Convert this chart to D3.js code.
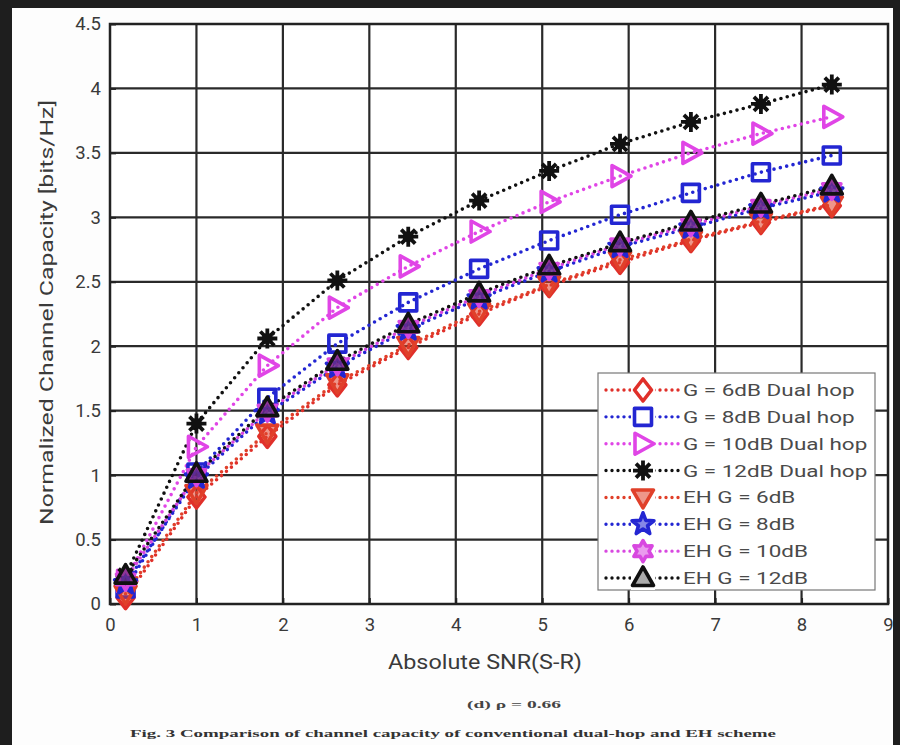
<!DOCTYPE html>
<html>
<head>
<meta charset="utf-8">
<script src="https://cdn.jsdelivr.net/npm/d3@7/dist/d3.min.js"></script>
<style>
  html, body { margin: 0; padding: 0; background: #1e1e1e; }
  svg { display: block; }
</style>
</head>
<body>
<svg id="chart" width="900" height="745"></svg>
<script>
// Absolute SNR (S-R) sample points
const snr = [0.18, 1.0, 1.82, 2.63, 3.45, 4.27, 5.08, 5.9, 6.72, 7.53, 8.35];

// Normalized channel capacity [bits/Hz], one array per curve
const dh6  = [0.05, 0.83, 1.30, 1.70, 1.99, 2.25, 2.47, 2.65, 2.82, 2.96, 3.09];
const dh8  = [0.12, 1.02, 1.60, 2.02, 2.34, 2.60, 2.82, 3.02, 3.19, 3.35, 3.48];
const dh10 = [0.18, 1.22, 1.85, 2.30, 2.62, 2.89, 3.12, 3.32, 3.50, 3.65, 3.78];
const dh12 = [0.22, 1.40, 2.06, 2.51, 2.85, 3.13, 3.36, 3.57, 3.74, 3.88, 4.03];
const eh6  = [0.08, 0.86, 1.33, 1.72, 2.01, 2.27, 2.48, 2.67, 2.83, 2.97, 3.10];
const eh8  = [0.16, 0.98, 1.48, 1.84, 2.13, 2.37, 2.58, 2.77, 2.92, 3.07, 3.20];
const eh10 = [0.19, 1.00, 1.50, 1.86, 2.15, 2.39, 2.60, 2.79, 2.94, 3.09, 3.22];
const eh12 = [0.22, 1.01, 1.52, 1.88, 2.17, 2.41, 2.62, 2.80, 2.96, 3.10, 3.24];

const seriesNames = [
  "G = 6dB Dual hop", "G = 8dB Dual hop", "G = 10dB Dual hop", "G = 12dB Dual hop",
  "EH G = 6dB", "EH G = 8dB", "EH G = 10dB", "EH G = 12dB"
];
const seriesValues = [dh6, dh8, dh10, dh12, eh6, eh8, eh10, eh12];
const seriesColors = ["#e0302a", "#2326d2", "#e045e6", "#111111", "#e0402a", "#2326d2", "#d848e0", "#111111"];
const seriesMarkers = ["diamond", "square", "triangleRight", "asterisk", "triangleDown", "pentagram", "hexagram", "triangleUp"];
const seriesFill = [0, 0, 0, 0, 0.55, 0.55, 0.55, 0.35];

const xTicks = [0, 1, 2, 3, 4, 5, 6, 7, 8, 9];
const yTicks = [0, 0.5, 1, 1.5, 2, 2.5, 3, 3.5, 4, 4.5];

const svg = d3.select("#chart");
const sans = "Roboto, 'Liberation Sans', sans-serif";

// paper area
svg.append("rect").attr("x", 12).attr("y", 8).attr("width", 881).attr("height", 737).attr("fill", "#fdfdfd");

const x = d3.scaleLinear().domain([0, 9]).range([110, 888]);
const y = d3.scaleLinear().domain([0, 4.5]).range([604, 24]);

// plot background
svg.append("rect")
  .attr("x", x(0)).attr("y", y(4.5))
  .attr("width", x(9) - x(0)).attr("height", y(0) - y(4.5))
  .attr("fill", "#ffffff");

// grid
const grid = svg.append("g").attr("stroke", "#2a2a2a").attr("stroke-width", 2.2);
grid.selectAll(".vx").data(xTicks.slice(1, -1)).join("line")
  .attr("x1", d => x(d)).attr("x2", d => x(d))
  .attr("y1", y(0)).attr("y2", y(4.5));
grid.selectAll(".hy").data(yTicks.slice(1, -1)).join("line")
  .attr("x1", x(0)).attr("x2", x(9))
  .attr("y1", d => y(d)).attr("y2", d => y(d));

// axes
const xAxis = d3.axisBottom(x).tickValues(xTicks).tickSize(-6).tickPadding(14).tickFormat(d3.format("d"));
const yAxis = d3.axisLeft(y).tickValues(yTicks).tickSize(-6).tickPadding(9).tickFormat(d => String(d));

function styleAxis(g) {
  g.select(".domain").remove();
  g.selectAll(".tick line").attr("stroke", "#222").attr("stroke-width", 2);
  g.selectAll(".tick text")
    .attr("font-family", sans)
    .attr("font-size", 18.5).attr("fill", "#3a3a3a");
}
svg.append("g").attr("transform", `translate(0,${y(0)})`).call(xAxis).call(styleAxis);
svg.append("g").attr("transform", `translate(${x(0)},0)`).call(yAxis).call(styleAxis);

// frame
svg.append("rect")
  .attr("x", x(0)).attr("y", y(4.5))
  .attr("width", x(9) - x(0)).attr("height", y(0) - y(4.5))
  .attr("fill", "none").attr("stroke", "#222").attr("stroke-width", 2.5);

// axis titles
svg.append("text")
  .attr("x", 388).attr("y", 669)
  .attr("font-family", sans)
  .attr("font-size", 21).attr("fill", "#3a3a3a")
  .attr("textLength", 194).attr("lengthAdjust", "spacingAndGlyphs")
  .text("Absolute SNR(S-R)");
svg.append("text")
  .attr("transform", "translate(53,525) rotate(-90)")
  .attr("font-family", sans)
  .attr("font-size", 18.5).attr("fill", "#3a3a3a")
  .attr("textLength", 425).attr("lengthAdjust", "spacingAndGlyphs")
  .text("Normalized Channel Capacity [bits/Hz]");

// captions
svg.append("text")
  .attr("x", 467).attr("y", 708)
  .attr("font-family", "'Liberation Serif', 'DejaVu Serif', serif")
  .attr("font-size", 11).attr("font-weight", "bold").attr("fill", "#444")
  .attr("textLength", 94).attr("lengthAdjust", "spacingAndGlyphs")
  .text("(d)  \u03c1 = 0.66");
svg.append("text")
  .attr("x", 130).attr("y", 737)
  .attr("font-family", "'Liberation Serif', 'DejaVu Serif', serif")
  .attr("font-size", 11).attr("font-weight", "bold").attr("fill", "#333")
  .attr("textLength", 646).attr("lengthAdjust", "spacingAndGlyphs")
  .text("Fig. 3 Comparison of channel capacity of conventional dual-hop and EH scheme");

// marker shapes, centred at 0,0
function starPath(n, ro, ri) {
  const pts = [];
  for (let i = 0; i < 2 * n; i++) {
    const r = i % 2 === 0 ? ro : ri;
    const a = -Math.PI / 2 + i * Math.PI / n;
    pts.push([r * Math.cos(a), r * Math.sin(a)]);
  }
  return "M" + pts.map(p => p[0].toFixed(2) + "," + p[1].toFixed(2)).join("L") + "Z";
}
const markerPaths = {
  diamond: "M0,-11L8.5,0L0,11L-8.5,0Z",
  square: "M-8.5,-8.5L8.5,-8.5L8.5,8.5L-8.5,8.5Z",
  triangleRight: "M-8,-10.5L11,0L-8,10.5Z",
  triangleDown: "M-10.5,-7.5L10.5,-7.5L0,10.5Z",
  triangleUp: "M0,-11L10.5,7.5L-10.5,7.5Z",
  pentagram: starPath(5, 11.5, 4.8),
  hexagram: starPath(6, 10.5, 6),
  asterisk: "M0,-10L0,10M-10,0L10,0M-7,-7L7,7M-7,7L7,-7"
};

function drawMarker(g, k) {
  const kind = seriesMarkers[k], color = seriesColors[k];
  const p = g.append("path").attr("d", markerPaths[kind]).attr("stroke", color)
    .attr("stroke-linejoin", "round");
  if (kind === "asterisk") {
    p.attr("fill", "none").attr("stroke-width", 3.8);
    g.append("circle").attr("r", 5.5).attr("fill", color);
  } else {
    p.attr("fill", seriesFill[k] ? color : "none")
      .attr("fill-opacity", seriesFill[k])
      .attr("stroke-width", 3.6);
  }
}

const line = d3.line().x((d, i) => x(snr[i])).y(d => y(d));

// curves
const curves = svg.append("g");
seriesValues.forEach((vals, k) => {
  curves.append("path")
    .datum(vals)
    .attr("d", line)
    .attr("fill", "none")
    .attr("stroke", seriesColors[k])
    .attr("stroke-width", 3.6)
    .attr("stroke-linecap", "round")
    .attr("stroke-dasharray", "0 6.5");
});
seriesValues.forEach((vals, k) => {
  vals.forEach((v, i) => {
    const g = curves.append("g").attr("transform", `translate(${x(snr[i])},${y(v)})`);
    drawMarker(g, k);
  });
});

// legend
const lg = svg.append("g");
lg.append("rect")
  .attr("x", 598).attr("y", 373).attr("width", 277).attr("height", 217)
  .attr("fill", "#ffffff").attr("stroke", "#777").attr("stroke-width", 1.2);
const rowY = d3.scaleLinear().domain([0, 7]).range([390, 578]);
seriesNames.forEach((name, k) => {
  const yy = rowY(k);
  lg.append("line")
    .attr("x1", 606).attr("x2", 680).attr("y1", yy).attr("y2", yy)
    .attr("stroke", seriesColors[k]).attr("stroke-width", 3.4)
    .attr("stroke-linecap", "round").attr("stroke-dasharray", "0 6");
  const g = lg.append("g").attr("transform", `translate(643,${yy})`);
  g.append("rect").attr("x", -12).attr("y", -12).attr("width", 24).attr("height", 24).attr("fill", "#fff");
  drawMarker(g, k);
  const t = lg.append("text")
    .attr("x", 683).attr("y", yy + 6)
    .attr("font-family", sans)
    .attr("font-size", 17).attr("fill", "#4a4a4a")
    .text(name);
  // the legend lettering runs wide
  const w = t.node().getComputedTextLength();
  t.attr("textLength", w * 1.32).attr("lengthAdjust", "spacingAndGlyphs");
});
</script>
</body>
</html>
